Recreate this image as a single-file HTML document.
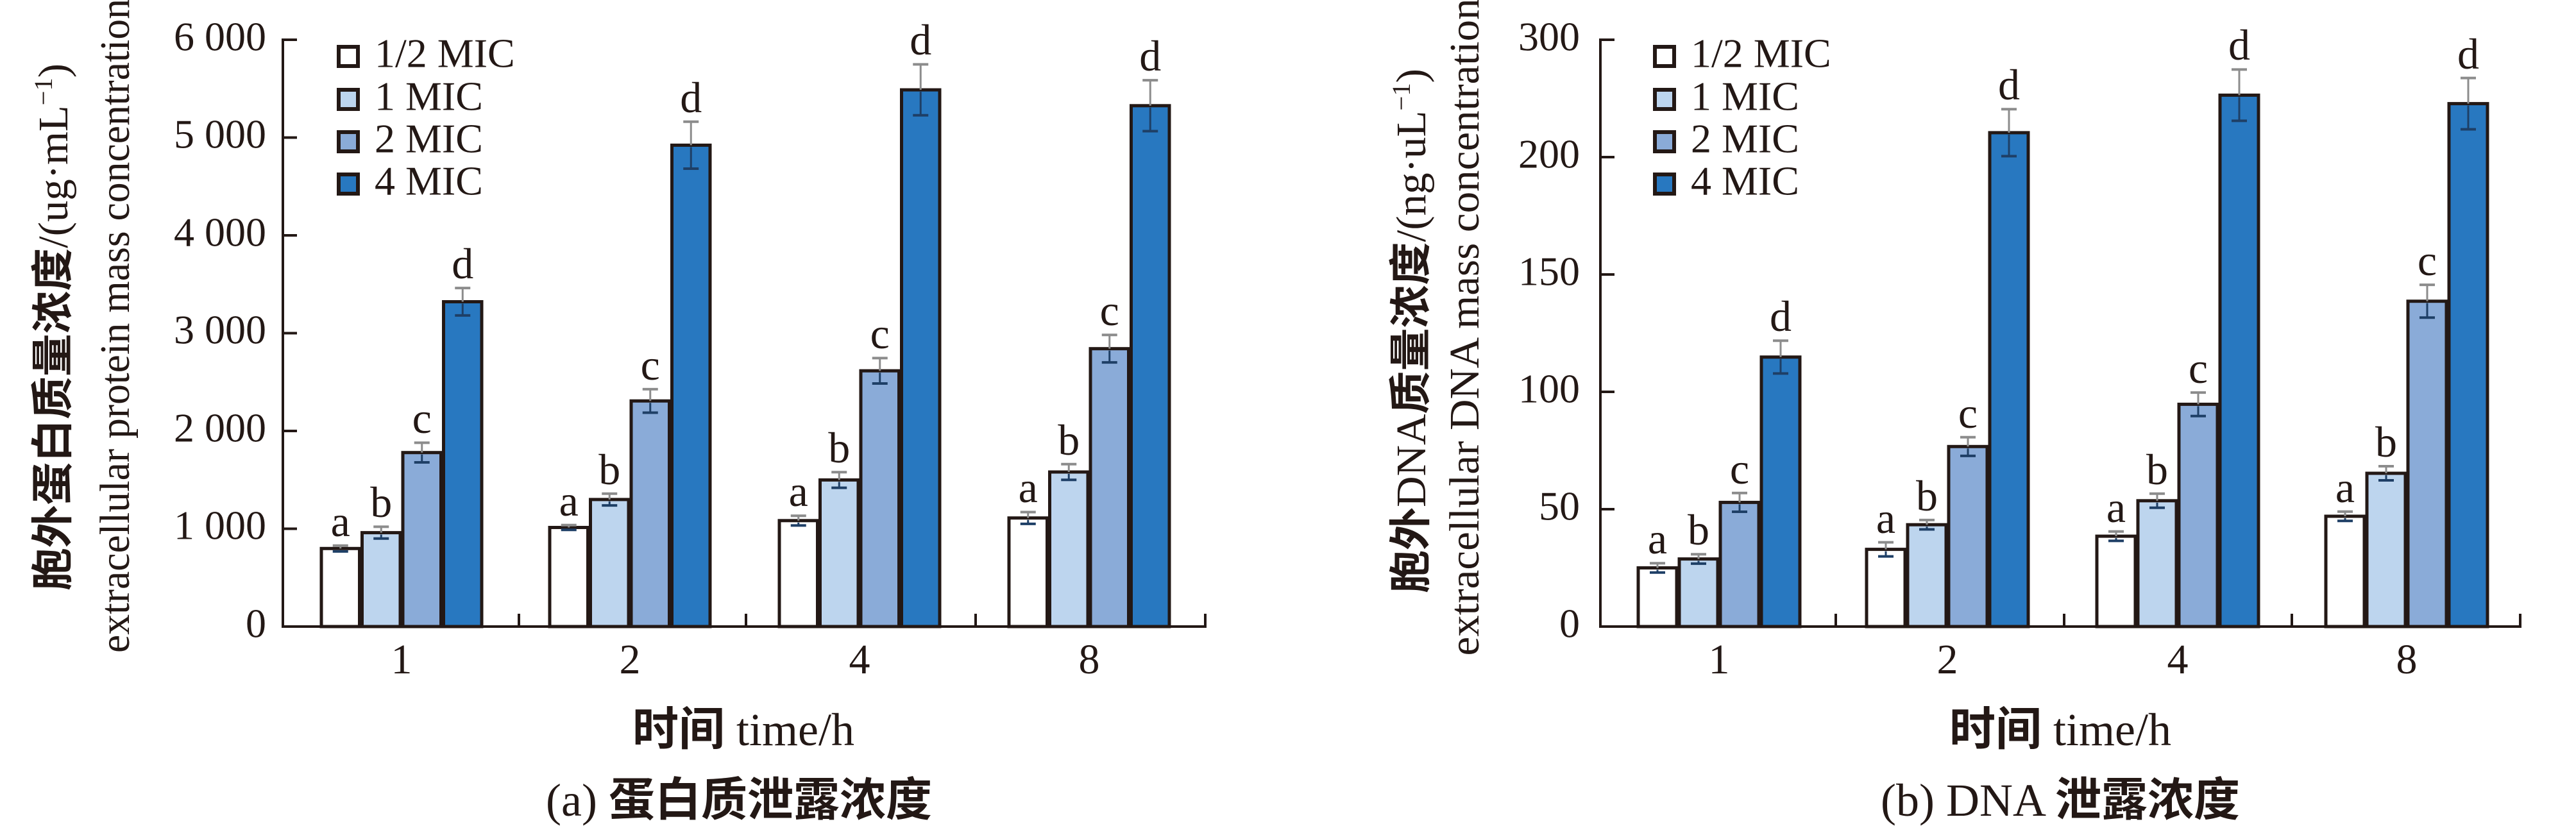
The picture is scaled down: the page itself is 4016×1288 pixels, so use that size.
<!DOCTYPE html>
<html><head><meta charset="utf-8"><style>
html,body{margin:0;padding:0;background:#fff;}
svg{display:block;}
text{font-family:"Liberation Serif","Noto Serif CJK SC",serif;fill:#231815;}
.cj{font-family:"Noto Sans CJK SC","WenQuanYi Zen Hei",sans-serif;font-weight:bold;}
</style></head><body>
<svg id="s" width="4016" height="1288" viewBox="0 0 4016 1288" xmlns="http://www.w3.org/2000/svg">
<g id="g"></g>
<g stroke="#231815" stroke-width="4" fill="none">
<path d="M463 62 H441 V977 H1879 V957"/>
<path d="M441 214.5 H463 M441 367 H463 M441 519.5 H463 M441 672 H463 M441 824.5 H463"/>
<path d="M809 977 V957 M1163 977 V957 M1521 977 V957"/>
<path d="M2517 62 H2495 V977 H3929 V957"/>
<path d="M2495 245 H2517 M2495 428 H2517 M2495 611 H2517 M2495 794 H2517"/>
<path d="M2862 977 V957 M3218 977 V957 M3573 977 V957"/>
</g>
<g font-size="64" text-anchor="end" dominant-baseline="middle">
<text x="415" y="64">6 000</text><text x="415" y="216">5 000</text><text x="415" y="369">4 000</text>
<text x="415" y="521">3 000</text><text x="415" y="674">2 000</text><text x="415" y="826">1 000</text><text x="415" y="979">0</text>
<text x="2463" y="64">300</text><text x="2463" y="247">200</text><text x="2463" y="430">150</text>
<text x="2463" y="613">100</text><text x="2463" y="796">50</text><text x="2463" y="979">0</text>
</g>
<g font-size="66" text-anchor="middle">
<text x="626" y="1050">1</text><text x="982" y="1050">2</text><text x="1340" y="1050">4</text><text x="1698" y="1050">8</text>
<text x="2680" y="1050">1</text><text x="3036" y="1050">2</text><text x="3395" y="1050">4</text><text x="3752" y="1050">8</text>
</g>
<g stroke="#231815" stroke-width="6">
<rect x="528" y="73" width="30" height="30" fill="#fff"/><rect x="528" y="140" width="30" height="30" fill="#bdd5ee"/>
<rect x="528" y="206" width="30" height="30" fill="#8aabd8"/><rect x="528" y="272" width="30" height="30" fill="#2878c0"/>
<rect x="2580" y="73" width="30" height="30" fill="#fff"/><rect x="2580" y="140" width="30" height="30" fill="#bdd5ee"/>
<rect x="2580" y="206" width="30" height="30" fill="#8aabd8"/><rect x="2580" y="272" width="30" height="30" fill="#2878c0"/>
</g>
<g font-size="64" dominant-baseline="middle">
<text x="584" y="90">1/2 MIC</text><text x="584" y="157">1 MIC</text><text x="584" y="223">2 MIC</text><text x="584" y="289">4 MIC</text>
<text x="2636" y="90">1/2 MIC</text><text x="2636" y="157">1 MIC</text><text x="2636" y="223">2 MIC</text><text x="2636" y="289">4 MIC</text>
</g>
<g font-size="68" text-anchor="middle">
<text x="530.75" y="836">a</text><text x="594.25" y="806">b</text><text x="657.75" y="675">c</text><text x="721.25" y="434">d</text>
<text x="886.75" y="804">a</text><text x="950.25" y="755">b</text><text x="1013.75" y="592">c</text><text x="1077.25" y="175">d</text>
<text x="1244.75" y="789">a</text><text x="1308.25" y="721">b</text><text x="1371.75" y="543">c</text><text x="1435.25" y="85">d</text>
<text x="1602.75" y="783">a</text><text x="1666.25" y="709">b</text><text x="1729.75" y="507">c</text><text x="1793.25" y="110">d</text>
<text x="2584" y="863">a</text><text x="2648" y="849">b</text><text x="2712" y="754">c</text><text x="2776" y="516">d</text>
<text x="2940" y="831">a</text><text x="3004" y="796">b</text><text x="3068" y="667">c</text><text x="3132" y="155">d</text>
<text x="3299" y="814">a</text><text x="3363" y="755">b</text><text x="3427" y="597">c</text><text x="3491" y="93">d</text>
<text x="3656" y="783">a</text><text x="3720" y="712">b</text><text x="3784" y="429">c</text><text x="3848" y="107">d</text>
</g>
<g font-size="72" text-anchor="middle">
<text x="1159" y="1162"><tspan class="cj">时间</tspan> time/h</text>
<text x="3212" y="1162"><tspan class="cj">时间</tspan> time/h</text>
<text x="1152" y="1272">(a) <tspan class="cj">蛋白质泄露浓度</tspan></text>
<text x="3212" y="1272">(b) DNA <tspan class="cj">泄露浓度</tspan></text>
</g>
<g font-size="66" text-anchor="middle">
<text transform="translate(105,510) rotate(-90)" textLength="822" lengthAdjust="spacingAndGlyphs"><tspan class="cj">胞外蛋白质量浓度</tspan>/(ug·mL<tspan font-size="40" dy="-24">−1</tspan><tspan dy="24">)</tspan></text>
<text transform="translate(201,508) rotate(-90)" textLength="1020" lengthAdjust="spacingAndGlyphs">extracellular protein mass concentration</text>
<text transform="translate(2222,516) rotate(-90)" textLength="818" lengthAdjust="spacingAndGlyphs"><tspan class="cj">胞外</tspan>DNA<tspan class="cj">质量浓度</tspan>/(ng·uL<tspan font-size="40" dy="-24">−1</tspan><tspan dy="24">)</tspan></text>
<text transform="translate(2305,510) rotate(-90)" textLength="1025" lengthAdjust="spacingAndGlyphs">extracellular DNA mass concentration</text>
</g>
</svg>
<script>
var NS="http://www.w3.org/2000/svg",G=document.getElementById("g");
var cols=["#ffffff","#bdd5ee","#8aabd8","#2878c0"];
function el(t,a){var e=document.createElementNS(NS,t);for(var k in a)e.setAttribute(k,a[k]);G.appendChild(e);return e;}
function chart(starts,w,data){
 for(var g=0;g<4;g++)for(var i=0;i<4;i++){
  var d=data[g][i],x=starts[g]+i*w,y=d[0];
  el("rect",{x:x+2,y:y,width:w-4,height:977-y,fill:cols[i],stroke:"#231815","stroke-width":5});
 }
 for(var g=0;g<4;g++)for(var i=0;i<4;i++){
  var d=data[g][i],cx=starts[g]+i*w+w/2;
  el("line",{x1:cx,y1:d[1],x2:cx,y2:d[0],stroke:"#8c8c8c","stroke-width":3});
  el("line",{x1:cx,y1:d[0]+3,x2:cx,y2:d[2],stroke:"#1e3f66","stroke-width":3});
  el("line",{x1:cx-12,y1:d[1],x2:cx+12,y2:d[1],stroke:"#8c8c8c","stroke-width":4});
  el("line",{x1:cx-12,y1:d[2],x2:cx+12,y2:d[2],stroke:"#1e3f66","stroke-width":4});
 }
}
chart([499,855,1213,1571],63.5,[
[[855.3,850.7,859.9],[830.6,821.4,839.8],[705.7,690.4,721],[470.5,449.1,491.9]],
[[822.5,818.7,826.3],[778.9,769.7,788.1],[625.2,606.9,643.5],[226.4,189.8,263]],
[[811.8,804.2,819.4],[748.4,736.2,760.6],[578.2,558.4,598],[140.1,100.4,179.8]],
[[807.7,798.5,816.9],[736,723.8,748.2],[543.7,522.3,565.1],[164.8,125.1,204.5]]]);
chart([2552,2908,3267,3624],64,[
[[885.5,878.2,892.8],[871.6,864.3,878.9],[783.4,768.8,798],[556.8,531.2,582.4]],
[[856.6,845.6,867.6],[818.2,810.9,825.5],[696.3,681.7,710.9],[206.9,170.3,243.5]],
[[836.1,828.8,843.4],[780.8,769.8,791.8],[630.4,612.1,648.7],[148.4,108.4,188.4]],
[[805,797.7,812.3],[738,727,749],[469.7,444.1,495.3],[161.6,121.6,201.6]]]);
</script>
</body></html>
